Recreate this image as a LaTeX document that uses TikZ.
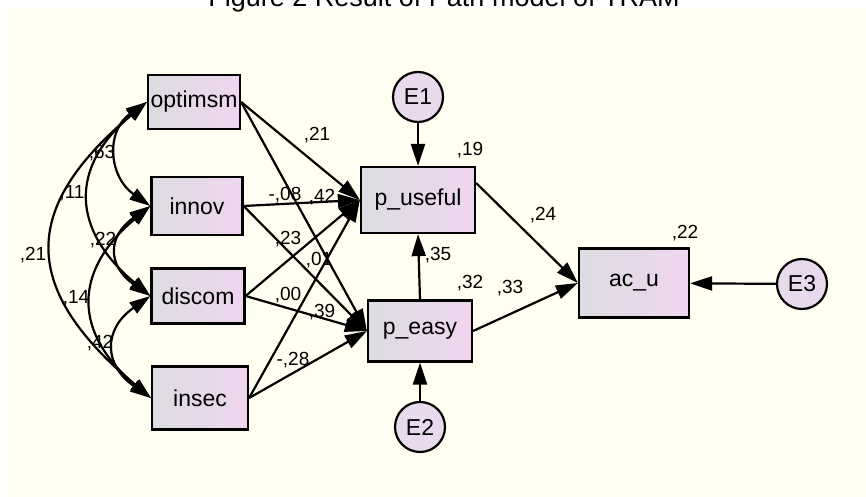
\documentclass[tikz,border=0pt]{standalone}
\usepackage{fontspec}
\setmainfont{Liberation Sans}
\usetikzlibrary{arrows.meta, positioning, calc}

\definecolor{bgcream}{HTML}{FFFEF0}
\definecolor{boxgray}{HTML}{DCDCE1}
\definecolor{boxpink}{HTML}{EFD5EF}
\definecolor{errfill}{HTML}{E8DAEC}

\begin{document}
\begin{tikzpicture}[
    x=1pt, y=1pt,
    >={Triangle[length=22pt, width=14pt]},
    var/.style={draw, line width=2.2pt, left color=boxgray, right color=boxpink,
                inner sep=0pt, font=\fontsize{23}{27}\selectfont},
    err/.style={draw, circle, line width=2.2pt, fill=errfill, minimum size=50pt,
                inner sep=0pt, font=\fontsize{23}{27}\selectfont},
    coef/.style={inner sep=0pt, font=\fontsize{19}{22}\selectfont},
    reg/.style={->, line width=2.2pt},
    cov/.style={{Triangle[length=21pt, width=13pt]}-{Triangle[length=21pt, width=13pt]},
                line width=2.2pt}
  ]
  \useasboundingbox (0,0) rectangle (866,497);
  \clip (0,0) rectangle (866,497);

  % Background and title
  \fill[bgcream] (8,0) rectangle (866,489);
  \node[anchor=base, inner sep=0pt, font=\fontsize{27}{32}\selectfont] (title)
    at (444,490) {Figure 2 Result of Path model of TRAM};

  % Observed variables
  \node[var, minimum width=92pt, minimum height=54pt] (optimsm) at (194,395) {optimsm};
  \node[var, minimum width=91pt, minimum height=58pt] (innov) at (197,291) {innov};
  \node[var, minimum width=93pt, minimum height=55pt] (discom) at (198,201) {discom};
  \node[var, minimum width=96pt, minimum height=63pt] (insec) at (200,99) {insec};
  \node[var, minimum width=114pt, minimum height=66pt] (puseful) at (418,297) {p\_useful};
  \node[var, minimum width=104pt, minimum height=61pt] (peasy) at (420,166) {p\_easy};
  \node[var, minimum width=110pt, minimum height=69pt] (acu) at (634,214) {ac\_u};

  % Error terms
  \node[err] (E1) at (418,400) {E1};
  \node[err] (E2) at (420,70) {E2};
  \node[err] (E3) at (802,213) {E3};

  % Regression paths
  \foreach \s in {optimsm,innov,discom,insec} {
    \foreach \t in {puseful,peasy} {
      \draw[reg] (\s.east) -- (\t.west);
    }
  }
  \draw[reg] (peasy.north) -- (puseful.south);
  \draw[reg] ([yshift=17pt]puseful.east) -- (acu.west);
  \draw[reg] (peasy.east) -- (acu.west);
  \draw[reg] (E1) -- (puseful);
  \draw[reg] (E2) -- (peasy);
  \draw[reg] (E3) -- (acu);

  % Covariances
  \draw[cov] (optimsm.west) to[out=215, in=145, looseness=1.25] (innov.west);
  \draw[cov] (innov.west) to[out=215, in=145, looseness=1.5] (discom.west);
  \draw[cov] (discom.west) to[out=215, in=145, looseness=1.45] (insec.west);
  \draw[cov] (optimsm.west) to[out=220, in=140, looseness=1.35] (discom.west);
  \draw[cov] (innov.west) to[out=220, in=140, looseness=1.35] (insec.west);
  \draw[cov] (optimsm.west) to[out=220, in=140, looseness=1.45] (insec.west);

  % Estimates
  \foreach \x/\y/\v [count=\i] in {102/344/{,63}, 72/304/{,11}, 103/257/{,22},
      33/242/{,21}, 76/199/{,14}, 100/154/{,42},
      317/362/{,21}, 285/302/{-,08}, 322/300/{,42}, 288/258/{,23},
      319/237/{,01}, 288/202/{,00}, 322/185/{,39}, 293/137/{-,28},
      438/242/{,35}, 470/347/{,19}, 470/214/{,32}, 685/264/{,22},
      543/282/{,24}, 510/209/{,33}} {
    \node[coef] (est\i) at (\x,\y) {\v};
  }
\end{tikzpicture}
\end{document}
